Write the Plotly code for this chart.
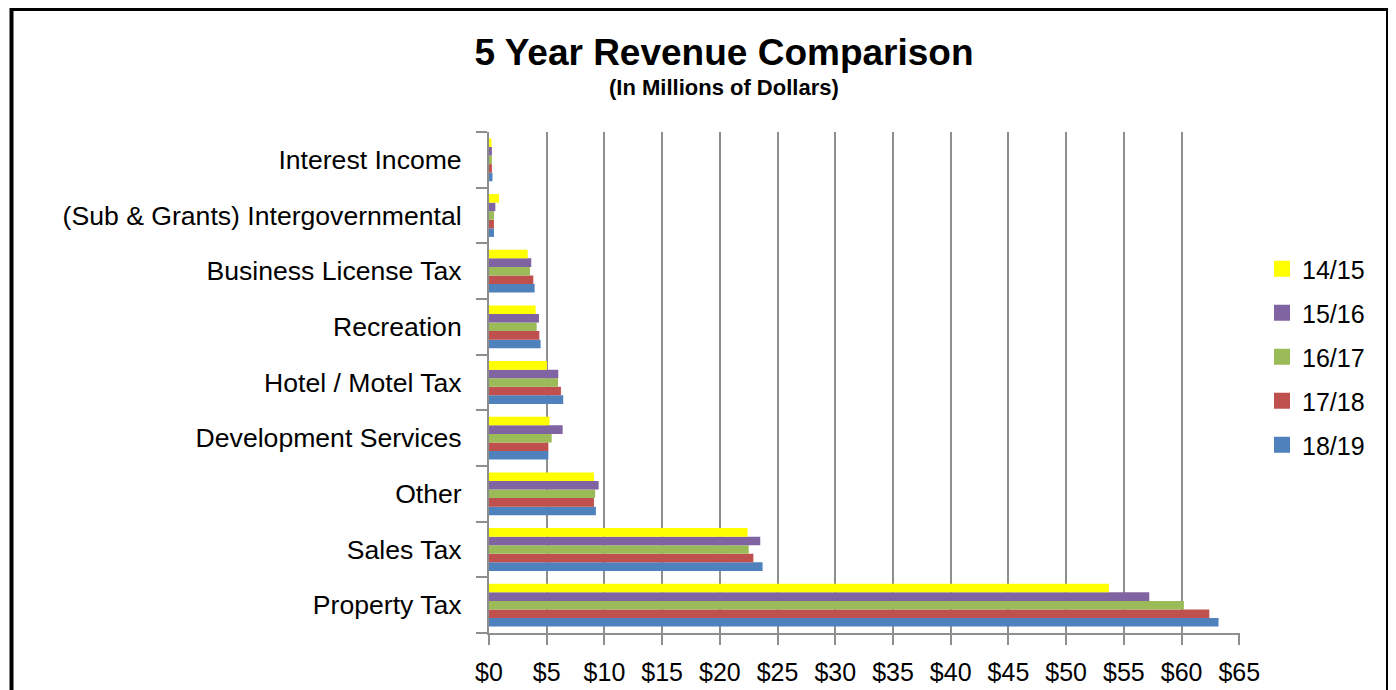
import plotly.graph_objects as go

# Data (top-to-bottom reading order)
categories = ["Interest Income", "(Sub & Grants) Intergovernmental", "Business License Tax",
              "Recreation", "Hotel / Motel Tax", "Development Services", "Other",
              "Sales Tax", "Property Tax"]
fy_14_15 = [0.22, 0.87, 3.35, 4.04, 5.02, 5.25, 9.09, 22.4, 53.7]
fy_15_16 = [0.25, 0.55, 3.66, 4.33, 6.00, 6.38, 9.50, 23.5, 57.2]
fy_16_17 = [0.25, 0.43, 3.55, 4.13, 5.98, 5.43, 9.20, 22.5, 60.2]
fy_17_18 = [0.25, 0.43, 3.84, 4.36, 6.23, 5.14, 9.09, 22.9, 62.4]
fy_18_19 = [0.30, 0.43, 3.95, 4.47, 6.43, 5.14, 9.26, 23.7, 63.2]
series_names = ["14/15", "15/16", "16/17", "17/18", "18/19"]
series_values = [fy_14_15, fy_15_16, fy_16_17, fy_17_18, fy_18_19]
colors = ["#FFFF00", "#8064A2", "#9BBB59", "#C0504D", "#4F81BD"]
x_ticks = list(range(0, 70, 5))

FONT = "Arial, Liberation Sans, sans-serif"

fig = go.Figure()
# legend entries with larger square swatches (14/15 first); no data points drawn
for name, col in zip(series_names, colors):
    fig.add_trace(go.Scatter(
        x=[None], y=[None], mode="markers", name=name, legendgroup=name,
        marker=dict(symbol="square", size=16, color=col, line=dict(width=0)),
        showlegend=True, hoverinfo="skip",
    ))
# add bars in reverse so that 14/15 sits on top within each group
for name, vals, col in reversed(list(zip(series_names, series_values, colors))):
    fig.add_trace(go.Bar(
        y=categories, x=vals, name=name, orientation="h",
        marker=dict(color=col, line=dict(width=0)),
        legendgroup=name, showlegend=False,
    ))

OFF = 8  # page body margin
W, H = 1396 - OFF, 690 - OFF
L, R, T, B = 489 - OFF, 1240 - OFF, 132 - OFF, 633 - OFF
pw, ph = R - L, B - T

def px_x(x):
    return (x - L) / pw

def px_y(y):
    return (B - y) / ph

fig.update_layout(
    width=W, height=H,
    margin=dict(l=L, r=W - R, t=T, b=H - B, pad=0),
    paper_bgcolor="white", plot_bgcolor="white",
    barmode="group", bargap=0.23, bargroupgap=0,
    font=dict(family=FONT, color="black"),
    title=dict(text="<b>5 Year Revenue Comparison</b>", x=(724 - OFF) / W, xanchor="center",
               y=1 - 44 / H, yanchor="middle", yref="container",
               font=dict(size=37, family=FONT, color="black")),
    annotations=[dict(text="<b>(In Millions of Dollars)</b>", xref="paper", yref="paper",
                      x=px_x(724 - OFF), y=px_y(80), xanchor="center", yanchor="middle",
                      showarrow=False, font=dict(size=22, family=FONT, color="black"))],
    legend=dict(traceorder="grouped", x=px_x(1262 - OFF), y=px_y(246 - OFF),
                xanchor="left", yanchor="top",
                font=dict(size=25, family=FONT, color="black"), tracegroupgap=8.5,
                itemwidth=30, bgcolor="rgba(0,0,0,0)"),
    shapes=[dict(type="rect", xref="paper", yref="paper",
                 x0=px_x(3.5), x1=px_x(1380), y0=px_y(1), y1=px_y(720),
                 line=dict(color="black", width=4), fillcolor="rgba(0,0,0,0)", layer="above")],
    showlegend=True,
)

fig.update_xaxes(type="linear", range=[0, 65.06], tickvals=x_ticks, ticktext=[f"${v}" for v in x_ticks],
                 showgrid=True, gridcolor="#8E8E8E", gridwidth=2,
                 showline=True, linecolor="#8E8E8E", linewidth=2,
                 ticks="outside", ticklen=10, tickwidth=2, tickcolor="#8E8E8E",
                 tickfont=dict(size=25, family=FONT, color="black"),
                 zeroline=False, ticklabelstandoff=6, automargin=False)
fig.update_yaxes(type="category", categoryorder="array", categoryarray=list(reversed(categories)),
                 showline=True, linecolor="#8E8E8E", linewidth=2,
                 ticks="outside", tickson="boundaries", ticklen=11, tickwidth=2, tickcolor="#8E8E8E",
                 tickfont=dict(size=26.6, family=FONT, color="black"),
                 showgrid=False, ticklabelstandoff=20, automargin=False)

fig.write_html("out.html")
